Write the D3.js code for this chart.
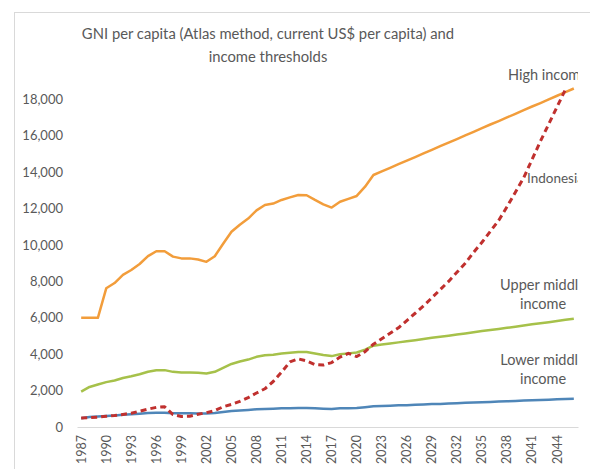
<!DOCTYPE html>
<html>
<head>
<meta charset="utf-8">
<script src="https://cdn.jsdelivr.net/npm/d3@7/dist/d3.min.js"></script>
<style>
  html, body { margin: 0; padding: 0; background: #fff; overflow: hidden; }
  svg { display: block; font-family: Lato, "Open Sans", sans-serif; }
</style>
</head>
<body>
<svg id="chart" width="590" height="469"></svg>
<script>
// ---- data ----
const years = [1987,1988,1989,1990,1991,1992,1993,1994,1995,1996,1997,1998,1999,2000,2001,2002,2003,2004,2005,2006,2007,2008,2009,2010,2011,2012,2013,2014,2015,2016,2017,2018,2019,2020,2021,2022,2023,2024,2025,2026,2027,2028,2029,2030,2031,2032,2033,2034,2035,2036,2037,2038,2039,2040,2041,2042,2043,2044,2045,2046];
const tickYears = [1987,1990,1993,1996,1999,2002,2005,2008,2011,2014,2017,2020,2023,2026,2029,2032,2035,2038,2041,2044];
const yTicks = [0,2000,4000,6000,8000,10000,12000,14000,16000,18000];

const highIncome = [6000,6000,6000,7620,7910,8355,8625,8955,9385,9655,9655,9360,9265,9265,9205,9075,9385,10065,10725,11115,11455,11905,12195,12275,12475,12615,12745,12735,12475,12235,12055,12375,12535,12695,13205,13845,
  14040,14240,14440,14640,14830,15030,15230,15430,15630,15820,16020,16220,16420,16620,16810,17010,17210,17410,17610,17800,18000,18200,18400,18600];
const upperMiddle = [1940,2200,2335,2465,2555,2695,2785,2895,3035,3115,3125,3030,2995,2995,2975,2935,3035,3255,3465,3595,3705,3855,3945,3975,4035,4085,4125,4125,4035,3955,3895,3995,4045,4095,4255,4465,
  4530,4590,4650,4710,4770,4840,4900,4960,5020,5080,5140,5210,5270,5330,5390,5450,5510,5580,5640,5700,5760,5820,5890,5950];
const lowerMiddle = [480,545,580,610,635,675,695,725,765,785,785,760,755,755,745,735,765,825,875,905,935,975,995,1005,1025,1035,1045,1045,1025,1005,995,1025,1035,1045,1085,1135,
  1150,1170,1190,1200,1220,1240,1260,1270,1290,1310,1330,1340,1360,1380,1400,1410,1430,1450,1470,1480,1500,1520,1540,1550];
const indonesia = [500,510,540,590,630,690,760,870,980,1080,1110,680,580,590,700,790,900,1110,1240,1410,1610,1870,2100,2500,3010,3580,3740,3630,3430,3400,3540,3840,4050,3870,4140,4550,
  4850,5150,5450,5850,6250,6650,7100,7550,8000,8500,9000,9600,10150,10750,11350,12100,12900,13700,14700,15700,16650,17600,18550,null];

const titleLines = ["GNI per capita (Atlas method, current US$ per capita) and", "income thresholds"];
const seriesNames = ["High income", "Upper middle income", "Lower middle income", "Indonesia"];

// ---- setup ----
const svg = d3.select("#chart");
const W = 590, H = 469;
const textColor = "#595959";

// chart border
svg.append("rect")
  .attr("x", 14.5).attr("y", 12.5).attr("width", 620).attr("height", 480)
  .attr("fill", "none").attr("stroke", "#d9d9d9").attr("stroke-width", 1);

const x = d3.scaleBand().domain(years).range([77, 578]).padding(0);
const y = d3.scaleLinear().domain([0, 18000]).range([427, 99.4]);
const xc = d => x(d) + x.bandwidth() / 2;

// title
svg.append("text")
  .attr("x", 268).attr("y", 39)
  .attr("text-anchor", "middle")
  .attr("font-size", 14.8).attr("fill", textColor)
  .selectAll("tspan").data(titleLines).join("tspan")
  .attr("x", 268).attr("dy", (d, i) => i === 0 ? 0 : 23)
  .text(d => d);

// y axis
const yAxis = d3.axisLeft(y).tickValues(yTicks).tickFormat(d3.format(",")).tickSize(0).tickPadding(0);
const gy = svg.append("g").attr("transform", "translate(63,0)").call(yAxis);
gy.select(".domain").remove();
gy.selectAll("text").attr("font-family", "Lato, sans-serif").attr("font-size", 13).attr("fill", textColor);

// x axis
const xAxis = d3.axisBottom(x).tickValues(tickYears).tickSize(0).tickPadding(0);
const gx = svg.append("g").attr("transform", "translate(0,427)").call(xAxis);
gx.select(".domain").attr("stroke", "#d9d9d9").attr("stroke-width", 1);
gx.selectAll("text")
  .attr("font-family", "Lato, sans-serif").attr("font-size", 12.5).attr("fill", textColor)
  .attr("text-anchor", "end")
  .attr("transform", "rotate(-90)")
  .attr("x", -8).attr("y", 0).attr("dy", "0.35em");

// lines
const line = d3.line()
  .defined(d => d[1] != null)
  .x(d => xc(d[0]))
  .y(d => y(d[1]));

const series = [
  { name: seriesNames[0], values: highIncome, color: "#F29D3B", dash: null },
  { name: seriesNames[1], values: upperMiddle, color: "#A6C14A", dash: null },
  { name: seriesNames[2], values: lowerMiddle, color: "#4F86B8", dash: null },
  { name: seriesNames[3], values: indonesia, color: "#C0302E", dash: "6,4" }
];

svg.append("g").selectAll("path").data(series).join("path")
  .attr("d", s => line(years.map((yr, i) => [yr, s.values[i]])))
  .attr("fill", "none")
  .attr("stroke", s => s.color)
  .attr("stroke-width", s => s.dash ? 3 : 2.5)
  .attr("stroke-dasharray", s => s.dash)
  .attr("stroke-linejoin", "round");

// series labels (clipped at right edge of the label area)
svg.append("clipPath").attr("id", "labclip")
  .append("rect").attr("x", 0).attr("y", 0).attr("width", 578).attr("height", H);

const labels = [
  { lines: ["High income"], x: 508, y: 80, anchor: "start", size: 14.5 },
  { lines: ["Indonesia"], x: 527, y: 183, anchor: "start", size: 13.5 },
  { lines: ["Upper middle", "income"], x: 543, y: 290, anchor: "middle", size: 14.5 },
  { lines: ["Lower middle", "income"], x: 543, y: 365, anchor: "middle", size: 14.5 }
];
const lg = svg.append("g").attr("clip-path", "url(#labclip)");
labels.forEach(l => {
  lg.append("text")
    .attr("x", l.x).attr("y", l.y)
    .attr("text-anchor", l.anchor)
    .attr("font-size", l.size).attr("fill", textColor)
    .selectAll("tspan").data(l.lines).join("tspan")
    .attr("x", l.x).attr("dy", (d, i) => i === 0 ? 0 : 19)
    .text(d => d);
});
</script>
</body>
</html>
